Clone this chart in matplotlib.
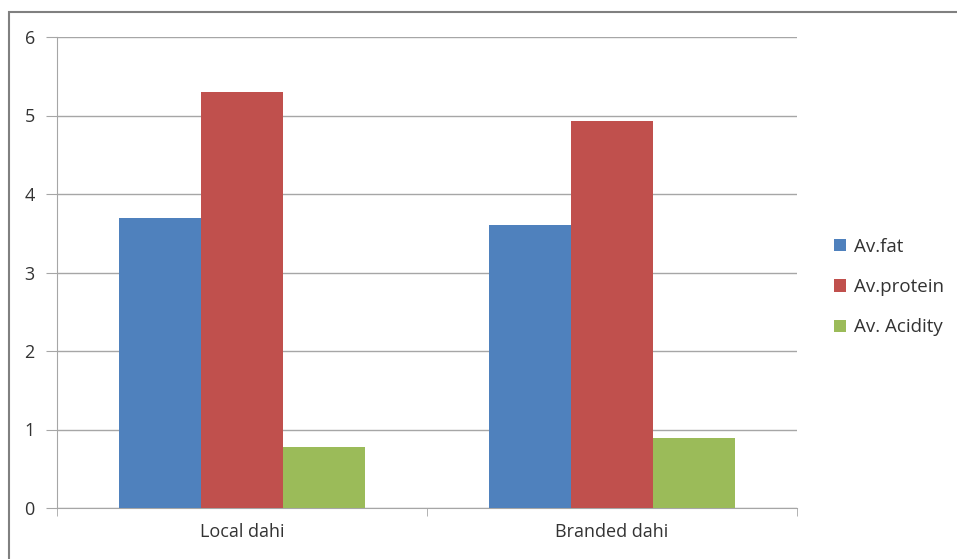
import matplotlib
matplotlib.use("Agg")
import matplotlib.pyplot as plt
from matplotlib.patches import Rectangle
import numpy as np

categories = ["Local dahi", "Branded dahi"]
series_names = ["Av.fat", "Av.protein", "Av. Acidity"]
av_fat = [3.7, 3.6]
av_protein = [5.3, 4.93]
av_acidity = [0.78, 0.89]
yticks = [0, 1, 2, 3, 4, 5, 6]

colors = ["#4F81BD", "#C0504D", "#9BBB59"]

plt.rcParams['font.family'] = ['Open Sans', 'DejaVu Sans']

W, H = 957, 559
fig = plt.figure(figsize=(W / 100, H / 100), dpi=100)
ax = fig.add_axes([57 / W, 51 / H, 740 / W, 471 / H])

# outer frame
fig.patches.append(Rectangle((9 / W, -0.1), 1.2, (H - 12) / H + 0.1, transform=fig.transFigure,
                             fill=False, edgecolor="#808080", linewidth=1.5))

x = np.arange(len(categories))
bw = 0.222
for i, (vals, name) in enumerate(zip([av_fat, av_protein, av_acidity], series_names)):
    ax.bar(x + (i - 1) * bw, vals, width=bw, color=colors[i], label=name, zorder=3)

ax.set_xlim(-0.5, 1.5)
ax.set_ylim(0, 6)
ax.set_yticks(yticks)
ax.set_yticklabels([str(t) for t in yticks], fontsize=13, color="#333333")
ax.yaxis.grid(True, color="#A6A6A6", linewidth=1, zorder=0)
ax.set_axisbelow(True)

ax.set_xticks(x)
ax.set_xticklabels(categories, fontsize=13, color="#333333")
ax.tick_params(axis='x', length=0, pad=11)
ax.set_xticks([-0.5, 0.5, 1.5], minor=True)
ax.tick_params(axis='x', which='minor', length=6, color="#A6A6A6", direction='out')
ax.tick_params(axis='y', length=8, color="#A6A6A6", direction='out', pad=8)

for s in ["top", "right"]:
    ax.spines[s].set_visible(False)
ax.spines["left"].set_color("#A6A6A6")
ax.spines["bottom"].set_color("#A6A6A6")

leg = fig.legend(loc="center left", bbox_to_anchor=(826 / W, 1 - 287 / H), frameon=False,
                 fontsize=13.5, handlelength=0.65, handleheight=0.65, handletextpad=0.45,
                 labelspacing=1.2, borderaxespad=0)
for t in leg.get_texts():
    t.set_color("#333333")

fig.savefig("out.png", dpi=100)
